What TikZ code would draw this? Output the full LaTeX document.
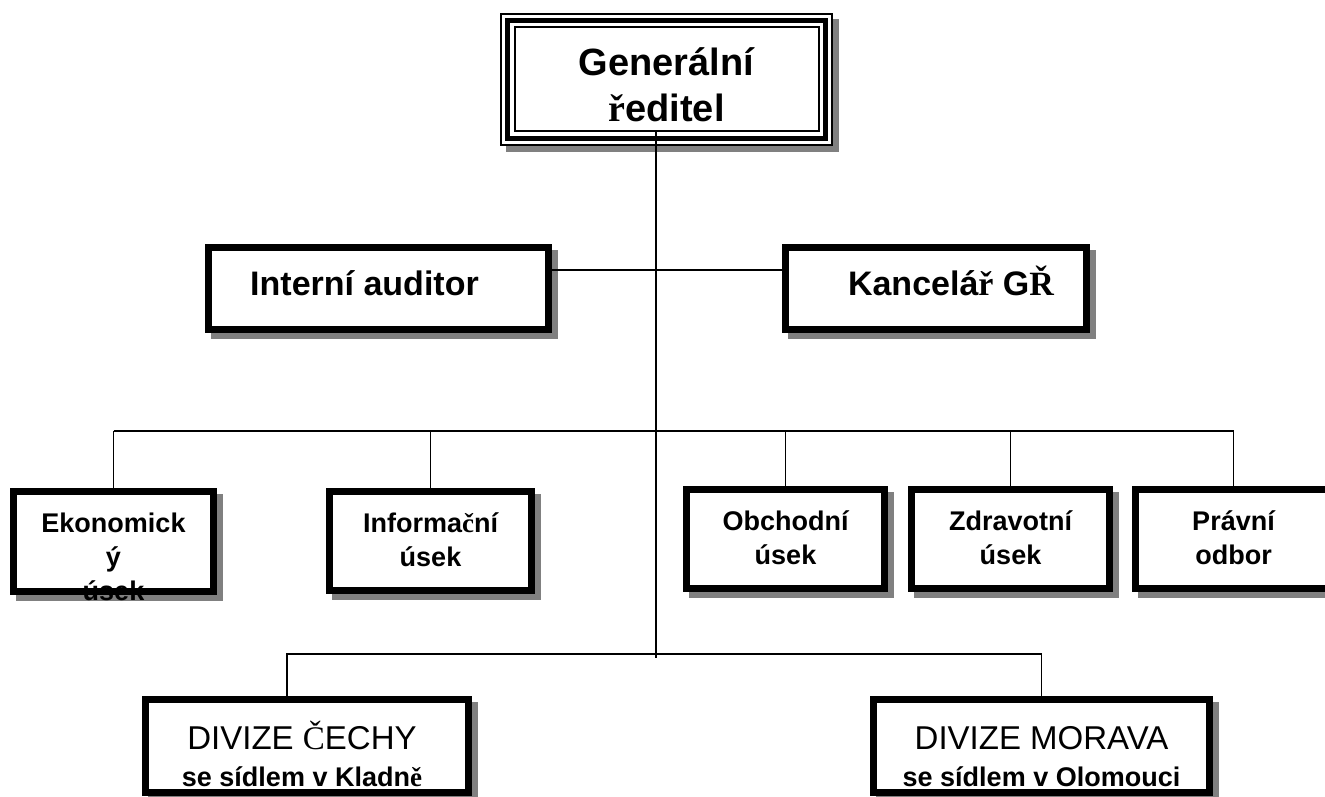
\documentclass[tikz,border=0pt]{standalone}
\usepackage{fontspec}
\setmainfont{Liberation Sans}
\newfontfamily\fallbackfont{Liberation Serif}
\newcommand{\fb}[1]{{\fallbackfont #1}}
\newcommand{\tp}{\rule{0pt}{0.95em}}
\usetikzlibrary{backgrounds}
\definecolor{shade}{gray}{0.5}

\begin{document}
\begin{tikzpicture}[x=1pt,y=-1pt]
\tikzset{
  unitbox/.style={draw=black,line width=7pt,fill=white,inner sep=0pt,outer sep=0pt,
    preaction={draw=shade,fill=shade,line width=7pt,
      transform canvas={shift={(6pt,-6pt)}}}},
  chiefbox/.style={draw=black,line width=5pt,fill=white,inner sep=0pt,outer sep=0pt,
    minimum width=318,minimum height=118},
  link/.style={draw=black,line width=1.8pt},
  txt/.style={anchor=north,inner sep=0pt,outer sep=0pt,align=center},
  chieftxt/.style={txt,font=\fontsize{38}{47}\selectfont\bfseries},
  headtxt/.style={txt,font=\fontsize{34}{40}\selectfont\bfseries},
  unittxt/.style={txt,font=\fontsize{27}{34}\selectfont\bfseries},
  divtxt/.style={txt,font=\fontsize{33}{37}\selectfont}
}
\useasboundingbox (0,0) rectangle (1325,797);

% top of the chart
\node[chiefbox] (gr) at (666.5,79.5) {};
\begin{scope}[on background layer]
  \fill[white] (0,0) rectangle (1325,797);
  \draw[line width=2.5pt,draw=shade,fill=shade]
    ([shift={(-0.5,-0.5)}]gr.north west) rectangle ([shift={(12.5,12.5)}]gr.south east);
  \draw[line width=2.5pt,fill=white]
    ([shift={(-6.5,-6.5)}]gr.north west) rectangle ([shift={(6.5,6.5)}]gr.south east);
\end{scope}
\draw[line width=2pt] ([shift={(7,7)}]gr.north west) rectangle ([shift={(-7,-7)}]gr.south east);
\node[chieftxt] (gr-t) at ([shift={(0,18.4)}]gr.north) {\tp Generální\\\fb{ř}editel};

% staff
\node[unitbox,minimum width=340,minimum height=82] (aud) at (378.5,288.5) {};
\node[headtxt] (aud-t) at ([shift={(-14,15.2)}]aud.north) {\tp Interní auditor};
\node[unitbox,minimum width=301,minimum height=82] (kan) at (936,288.5) {};
\node[headtxt] (kan-t) at ([shift={(15,15.2)}]kan.north) {\tp Kancelá\fb{ř} G\fb{Ř}};

% departments
\node[unitbox,minimum width=200,minimum height=100] (eko) at (113.5,541.5) {};
\node[unittxt] (eko-t) at ([shift={(0,14.85)}]eko.north) {\tp Ekonomick\\ý\\úsek};
\node[unitbox,minimum width=202,minimum height=99] (inf) at (430.5,541) {};
\node[unittxt] (inf-t) at ([shift={(0,14.85)}]inf.north) {\tp Informa\fb{č}ní\\úsek};
\node[unitbox,minimum width=198,minimum height=99] (obch) at (785.5,539) {};
\node[unittxt] (obch-t) at ([shift={(0,14.85)}]obch.north) {\tp Obchodní\\úsek};
\node[unitbox,minimum width=198,minimum height=99] (zdr) at (1010.5,539) {};
\node[unittxt] (zdr-t) at ([shift={(0,14.85)}]zdr.north) {\tp Zdravotní\\úsek};
\node[unitbox,minimum width=196,minimum height=99] (prav) at (1233.5,539) {};
\node[unittxt] (prav-t) at ([shift={(0,14.85)}]prav.north) {\tp Právní\\odbor};

% divisions
\node[unitbox,minimum width=323,minimum height=93] (cechy) at (307,746) {};
\node[divtxt] (cechy-t) at ([shift={(-5,18.15)}]cechy.north)
  {\tp DIVIZE \fb{Č}ECHY\\{\fontsize{27}{32}\selectfont\bfseries se sídlem v Kladn\fb{ě}}};
\node[unitbox,minimum width=336,minimum height=93] (morava) at (1041.5,746) {};
\node[divtxt] (morava-t) at ([shift={(0,18.15)}]morava.north)
  {\tp DIVIZE MORAVA\\{\fontsize{27}{32}\selectfont\bfseries se sídlem v Olomouci}};

% lines
\coordinate (trunk) at (656,658);
\coordinate (side) at (656,270);
\coordinate (bus) at (656,431);
\coordinate (bus2) at (656,654);
\draw[link] ([shift={(0,-7)}]trunk |- gr.south) -- (trunk);
\draw[link] (aud.east |- side) -- (kan.west |- side);
\draw[link] (eko.north |- bus) -- (prav.north |- bus);
\foreach \u in {eko,inf,obch,zdr,prav}
  \draw[link] (\u.north |- bus) -- (\u.north);
\draw[link] ([shift={(-20,0)}]cechy.north) |- (bus2) -| (morava.north);
\end{tikzpicture}
\end{document}
